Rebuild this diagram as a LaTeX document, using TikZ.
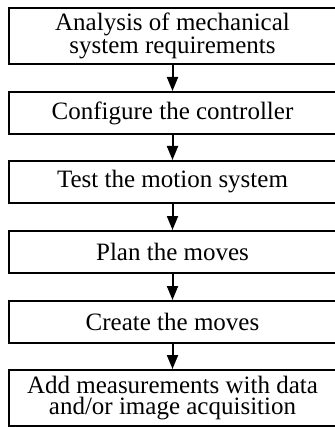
\documentclass[tikz,border=0pt]{standalone}
\usepackage{fontspec}
\setmainfont{Liberation Serif}
\usetikzlibrary{arrows.meta}

\begin{document}
\begin{tikzpicture}[x=1pt,y=-1pt,
  stepbox/.style={draw=black, line width=2pt, inner sep=0pt,
    minimum width=327pt, align=center,
    font=\fontsize{25}{21}\selectfont},
  flow/.style={line width=2pt, -{Triangle[length=14pt,width=11pt]}}]
  \useasboundingbox (0,0) rectangle (334,427);

  % process steps, top to bottom
  \node[stepbox, minimum height=56pt] (s1) at (172.5,36)
    {Analysis of mechanical\\system requirements};
  \node[stepbox, minimum height=42pt] (s2) at (172.5,113)
    {Configure the controller};
  \node[stepbox, minimum height=42pt] (s3) at (172.5,182)
    {Test the motion system};
  \node[stepbox, minimum height=42pt] (s4) at (172.5,252)
    {Plan the moves};
  \node[stepbox, minimum height=42pt] (s5) at (172.5,322)
    {Create the moves};
  \node[stepbox, minimum height=56pt] (s6) at (172.5,398)
    {Add measurements with data\\and/or image acquisition};

  % connectors between consecutive steps
  \foreach \a/\b in {s1/s2, s2/s3, s3/s4, s4/s5, s5/s6}
    \draw[flow] (\a.south) -- (\b.north);
\end{tikzpicture}
\end{document}
